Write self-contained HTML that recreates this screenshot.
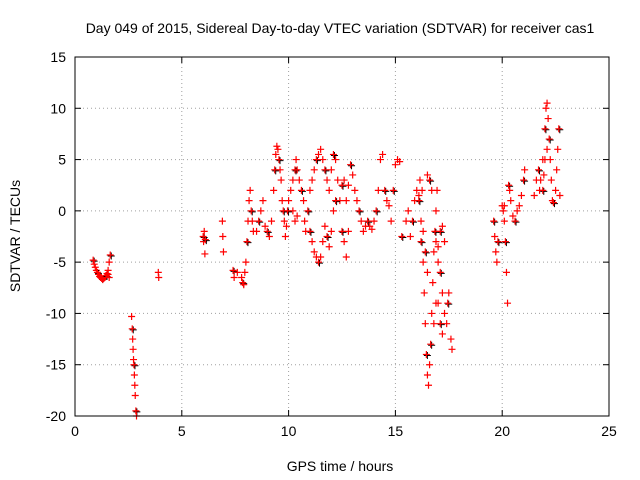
<!DOCTYPE html>
<html><head><meta charset="utf-8">
<style>
body{margin:0;background:#fff;}
svg{display:block;font-family:"Liberation Sans",sans-serif;}
</style></head>
<body>
<svg id="chart" width="640" height="480" viewBox="0 0 640 480">
<rect width="640" height="480" fill="#fff"/>
<text x="340" y="33" font-size="14" text-anchor="middle">Day 049 of 2015, Sidereal Day-to-day VTEC variation (SDTVAR) for receiver cas1</text>
<text x="340" y="471" font-size="14" text-anchor="middle">GPS time / hours</text>
<text transform="translate(20,236) rotate(-90)" font-size="14" text-anchor="middle">SDTVAR / TECUs</text>
<g id="grid"></g>
<g id="ticks"></g>
<g id="marks"></g>
<rect x="75" y="57" width="534" height="359" fill="none" stroke="#000" stroke-width="1"/>
</svg>
<script>
const xTicks=[0,5,10,15,20,25];
const yTicks=[15,10,5,0,-5,-10,-15,-20];
const times=[0.85,0.9,0.95,1.0,1.05,1.1,1.15,1.2,1.25,1.3,1.35,1.4,1.45,1.5,1.55,1.6,1.65,1.6,1.55,
2.65,2.68,2.7,2.72,2.74,2.76,2.78,2.8,2.82,2.85,2.88,
3.9,3.92,
6.0,6.02,6.05,6.08,6.1,
6.9,6.92,6.95,
7.4,7.45,7.6,
7.8,7.85,7.9,7.95,8.0,8.05,8.1,8.15,8.2,8.25,8.3,8.35,
8.5,8.6,8.7,8.8,8.9,9.0,9.1,9.2,9.3,9.35,9.4,9.45,9.5,9.55,9.6,9.65,9.7,9.75,9.8,9.85,9.9,9.95,10.0,10.1,10.2,10.3,10.35,10.4,10.5,10.6,10.7,10.75,10.8,10.9,11.0,11.1,11.2,11.3,11.4,11.5,11.6,11.7,11.8,11.9,12.0,12.1,12.2,12.3,12.4,12.5,12.6,12.7,12.8,12.9,13.0,13.1,13.2,13.3,13.4,13.5,13.6,13.7,13.8,13.9,14.0,14.1,14.2,14.3,14.4,14.5,14.6,14.7,14.8,14.9,15.0,15.1,15.2,15.3,15.5,15.6,15.7,15.8,15.9,16.0,16.1,
11.0,11.1,11.2,11.3,11.4,11.5,11.6,11.7,11.8,11.9,12.0,12.1,12.2,
10.2,10.3,10.4,12.5,12.6,12.7,12.8,
16.2,16.3,16.35,16.4,16.45,16.5,16.55,16.6,16.65,16.7,16.75,16.8,16.85,16.9,16.95,16.5,16.6,16.7,16.9,17.0,17.1,17.2,17.3,17.4,17.45,17.5,17.6,17.65,16.4,16.5,16.3,16.2,16.1,16.15,16.25,17.0,17.1,17.2,17.3,17.0,17.1,17.2,16.8,16.9,
19.6,19.65,19.7,19.75,19.8,
20.0,20.05,20.1,20.15,20.2,20.25,20.1,20.3,20.35,20.4,20.5,20.6,20.7,20.8,20.9,21.0,21.05,
21.5,21.6,21.7,21.75,21.8,21.9,22.0,22.05,22.1,22.15,22.2,22.25,22.3,22.35,22.4,22.5,22.55,22.6,22.65,22.7,22.0,22.1,21.9,21.95];
const values=[-4.8,-5.2,-5.5,-5.8,-6.0,-6.2,-6.4,-6.5,-6.6,-6.7,-6.6,-6.5,-6.3,-6.1,-5.8,-5.0,-4.3,-6.5,-6.2,
-10.3,-11.5,-12.5,-13.5,-14.5,-15,-16,-17,-18,-19.5,-20,
-6,-6.5,
-2.5,-3,-2,-4.2,-2.8,
-1,-2.5,-4,
-5.8,-6.5,-6,
-6.5,-7,-7.2,-6,-5,-3,-1,1,2,0,-1,-2,
-2,-1,0,1,-1.5,-2,-2.5,-1,2,4,5.5,6.3,6,5,4,3,1,0,-1,-2.5,-1.5,0,1,2,3,4,5,4,3,2,1,-1,-2,0,2,3,4,5,5.5,6,5,4,3,2,4,5.5,5,3,1,2.5,3,1,2.5,4.5,3.5,2,1,0,-1,-2,-1.5,-1,-1.5,-1.8,-1,0,2,5,5.5,2,1,0.5,-1,2,4.5,5,4.8,-2.5,-1,0,-2.5,-1,1,2,1.5,
-2,-3,-4,-4.5,-5,-4.5,-3,-1.5,-2.5,-3.5,-2,0,1,
0,-1,-0.5,-2,-3,-4.5,-2,
-3,-5,-8,-11,-14,-16,-17,-15,-13,-10,-7,-4,-2,0,2,3.5,3,2,-3,-5,-6,-8,-10,-11,-9,-8,-12.5,-13.5,-4,-6,-2,-1,1,3,2,-3.5,-2,-1.5,-3,-9,-11,-12,-11,-9,
-1,-2.5,-4,-5,-3,
0.5,0,-1,-3,-6,-9,0.5,2.5,2,1,-0.5,-1,0,0.5,1.5,3,4,
1.5,3,4,2,3,5,8,10,10.5,9,7,5,3,1,0.8,2,4,6,8,1.5,5,6,2,3.5];
const X0=75,X1=609,Y0=416,Y1=57,xmin=0,xmax=25,ymin=-20,ymax=15;
const sx=v=>X0+(v-xmin)/(xmax-xmin)*(X1-X0);
const sy=v=>Y0-(v-ymin)/(ymax-ymin)*(Y0-Y1);
const NS="http://www.w3.org/2000/svg";
const grid=document.getElementById('grid'),ticks=document.getElementById('ticks'),marks=document.getElementById('marks');
function mk(tag,attrs,parent){const e=document.createElementNS(NS,tag);for(const k in attrs)e.setAttribute(k,attrs[k]);parent.appendChild(e);return e;}
xTicks.forEach(t=>{const x=sx(t);
 if(t>xmin&&t<xmax){const g=mk('line',{x1:x,x2:x,y1:Y0,y2:Y1,stroke:'#a0a0a0','stroke-dasharray':'1,3'},grid);
 
 }
 mk('line',{x1:x,x2:x,y1:Y0,y2:Y0-6,stroke:'#000'},ticks);
 mk('line',{x1:x,x2:x,y1:Y1,y2:Y1+6,stroke:'#000'},ticks);
 const l=mk('text',{x:x,y:Y0+20,'font-size':14,'text-anchor':'middle'},ticks);l.textContent=t;
 
 });
yTicks.forEach(t=>{const y=sy(t);
 if(t>ymin&&t<ymax){const g=mk('line',{x1:X0,x2:X1,y1:y,y2:y,stroke:'#a0a0a0','stroke-dasharray':'1,3'},grid);
 
 }
 mk('line',{x1:X0,x2:X0+6,y1:y,y2:y,stroke:'#000'},ticks);
 mk('line',{x1:X1,x2:X1-6,y1:y,y2:y,stroke:'#000'},ticks);
 const l=mk('text',{x:X0-9,y:y+5,'font-size':14,'text-anchor':'end'},ticks);l.textContent=t;
 
 });
times.forEach((t,i)=>{const x=sx(t),y=sy(values[i]);
 if(i%4===0){const b=mk('path',{d:`M${x-3.5+1},${y+1}h7M${x+1},${y-3.5+1}v7`,stroke:'#000','stroke-width':1},marks);
 
 }
 const p=mk('path',{d:`M${x-3.5},${y}h7M${x},${y-3.5}v7`,stroke:'#f00','stroke-width':1.2},marks);
 
 });
</script>
</body></html>
